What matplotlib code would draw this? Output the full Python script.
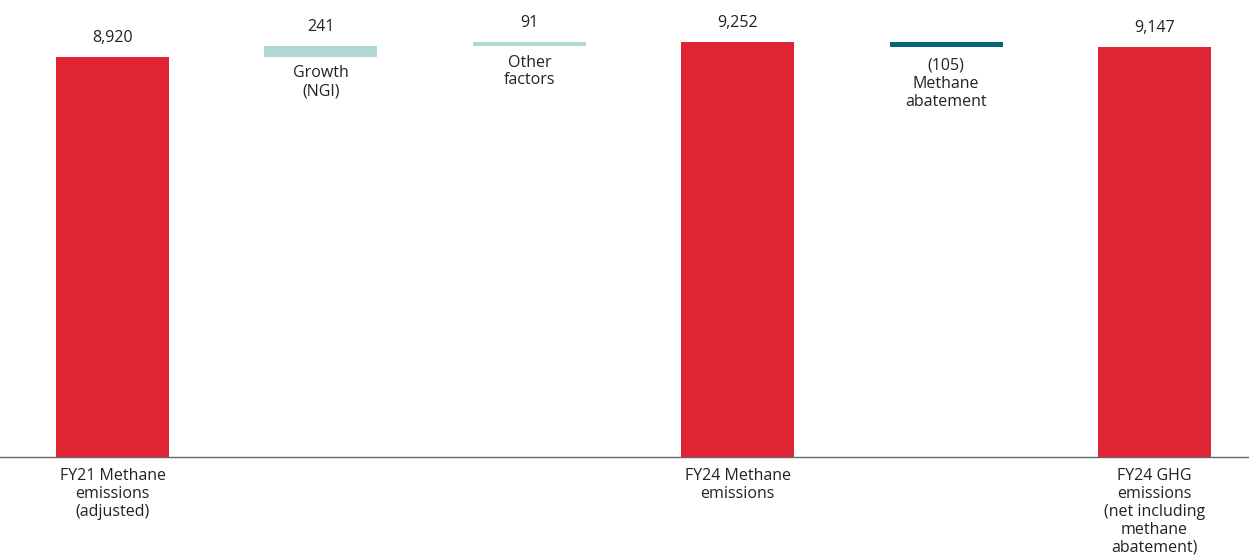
import numpy as np
import matplotlib.pyplot as plt

# data
labels = ['FY21 Methane\nemissions\n(adjusted)', 'Growth\n(NGI)', 'Other\nfactors',
          'FY24 Methane\nemissions', 'Methane\nabatement',
          'FY24 GHG\nemissions\n(net including\nmethane\nabatement)']
values = [8920, 241, 91, 9252, -105, 9147]
kinds = ['total', 'up', 'up', 'total', 'down', 'total']
value_text = ['8,920', '241', '91', '9,252', '(105)', '9,147']

RED = '#E12434'
LIGHT = '#B0D8D5'
DARK = '#006877'
TXT = '#222222'

plt.rcParams['font.family'] = ['Open Sans', 'DejaVu Sans']
FS = 11.5
LS = 1.16

fig = plt.figure(figsize=(12.49, 5.55), dpi=100)
ax = fig.add_axes([0, 0, 1, 1])

x = np.arange(len(values))
width = 0.542
running = 0
for i, (v, k) in enumerate(zip(values, kinds)):
    if k == 'total':
        bottom, height, col = 0, v, RED
        running = v
    elif k == 'up':
        bottom, height, col = running, v, LIGHT
        running += v
    else:
        bottom, height, col = running + v, -v, DARK
        running += v
    ax.bar(x[i], height, bottom=bottom, width=width, color=col, zorder=2)
    top = bottom + height
    if k == 'down':
        ax.annotate(value_text[i] + '\n' + labels[i], (x[i], bottom), xytext=(0, -8),
                    textcoords='offset points', ha='center', va='top',
                    fontsize=FS, color=TXT, linespacing=LS)
    else:
        ax.annotate(value_text[i], (x[i], top), xytext=(0, 8),
                    textcoords='offset points', ha='center', va='bottom',
                    fontsize=FS, color=TXT)
    if k == 'total':
        ax.annotate(labels[i], (x[i], 0), xytext=(0, -8),
                    textcoords='offset points', ha='center', va='top',
                    fontsize=FS, color=TXT, linespacing=LS)
    elif k == 'up':
        ax.annotate(labels[i], (x[i], bottom), xytext=(0, -6),
                    textcoords='offset points', ha='center', va='top',
                    fontsize=FS, color=TXT, linespacing=LS)

ax.axhline(0, color='#666666', lw=1, zorder=3)
ax.set_xlim(-0.54, 5.453)
ax.set_ylim(-2185, 10191)
ax.axis('off')

plt.savefig('out.png', dpi=100)
